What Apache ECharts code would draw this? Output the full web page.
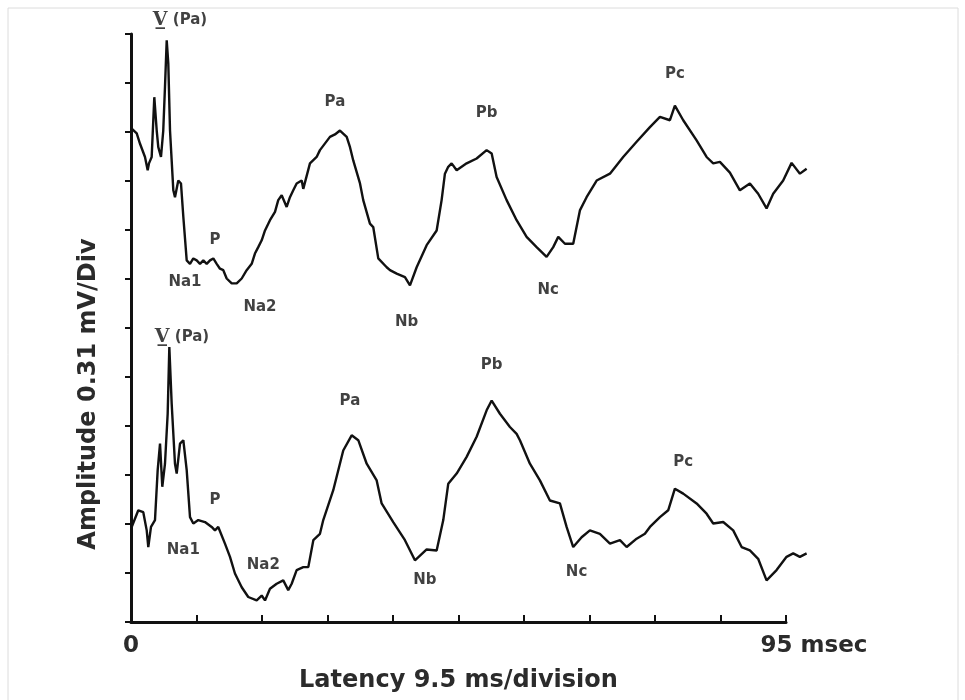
<!DOCTYPE html>
<html>
<head>
<meta charset="utf-8">
<script src="https://cdn.jsdelivr.net/npm/echarts@6/dist/echarts.min.js"></script>
<style>html,body{margin:0;padding:0;background:#fff;}#c{width:965px;height:700px;}</style>
</head>
<body>
<div id="c"></div>
<script>
// Latency (ms) vs amplitude (divisions of 0.31 mV)
var topTrace = [
[0.10,10.07],[0.83,9.97],[1.31,9.76],[2.03,9.49],[2.42,9.22],[2.61,9.36],[3.00,9.49],[3.38,10.71],
[3.73,10.03],[3.96,9.69],[4.35,9.49],[4.68,10.03],[4.93,10.92],[5.18,11.87],[5.41,11.40],[5.66,10.03],
[6.14,8.81],[6.38,8.67],[6.86,9.01],[7.25,8.95],[7.59,8.27],[8.08,7.38],[8.56,7.31],[9.04,7.42],
[9.53,7.38],[10.01,7.31],[10.49,7.38],[10.98,7.31],[11.46,7.38],[11.94,7.42],[12.43,7.31],[12.91,7.21],
[13.39,7.18],[13.88,7.01],[14.61,6.91],[15.33,6.91],[16.06,7.01],[16.78,7.18],[17.51,7.31],[17.98,7.52],
[18.46,7.65],[18.96,7.79],[19.44,7.99],[20.16,8.20],[20.89,8.37],[21.36,8.61],[21.86,8.71],[22.58,8.47],
[23.06,8.67],[23.54,8.81],[24.03,8.95],[24.76,9.01],[24.99,8.84],[25.96,9.36],[26.93,9.49],[27.41,9.63],
[28.86,9.90],[29.59,9.95],[30.31,10.03],[31.29,9.90],[31.77,9.69],[32.24,9.42],[33.22,8.95],[33.69,8.61],
[34.66,8.13],[35.14,8.06],[35.87,7.42],[37.09,7.24],[37.57,7.18],[38.54,7.11],[39.74,7.04],[40.47,6.87],
[41.44,7.24],[42.89,7.69],[44.34,7.99],[45.06,8.61],[45.54,9.15],[46.02,9.29],[46.51,9.36],[47.24,9.22],
[48.69,9.36],[50.14,9.46],[51.59,9.63],[52.32,9.56],[53.04,9.08],[54.49,8.61],[55.94,8.20],[57.39,7.86],
[58.84,7.65],[60.29,7.45],[61.25,7.65],[61.98,7.86],[62.95,7.72],[64.15,7.72],[65.12,8.40],[66.09,8.67],
[67.55,9.01],[69.48,9.15],[71.40,9.49],[73.35,9.80],[75.28,10.10],[76.73,10.31],[78.18,10.24],[78.90,10.54],
[80.11,10.24],[82.05,9.83],[83.50,9.49],[84.46,9.36],[85.43,9.39],[86.88,9.17],[88.33,8.81],[89.78,8.95],
[90.98,8.74],[92.20,8.44],[93.16,8.74],[94.61,9.01],[95.83,9.37],[97.04,9.15],[98.01,9.25]
];
var bottomTrace = [
[0.10,1.94],[1.06,2.28],[1.78,2.24],[2.28,1.87],[2.51,1.53],[2.90,1.94],[3.48,2.08],[3.87,3.10],
[4.21,3.64],[4.54,2.76],[4.93,3.23],[5.32,4.25],[5.56,5.61],[5.90,4.46],[6.38,3.23],[6.63,3.03],
[7.11,3.64],[7.59,3.71],[8.08,3.10],[8.56,2.14],[9.04,2.01],[9.76,2.08],[10.73,2.04],[11.70,1.94],
[12.18,1.87],[12.66,1.94],[13.63,1.60],[14.36,1.33],[15.08,0.99],[16.06,0.71],[17.01,0.51],[18.23,0.44],
[18.96,0.54],[19.44,0.44],[20.16,0.68],[21.13,0.78],[22.09,0.85],[22.81,0.65],[23.31,0.78],[24.03,1.06],
[24.99,1.12],[25.72,1.12],[26.45,1.67],[27.41,1.80],[27.89,2.08],[29.34,2.69],[30.79,3.50],[32.01,3.81],
[32.97,3.71],[34.19,3.23],[35.64,2.89],[36.36,2.42],[38.04,2.04],[39.74,1.67],[41.19,1.26],[42.89,1.48],
[44.34,1.46],[45.30,2.08],[46.02,2.82],[47.24,3.03],[48.69,3.37],[50.14,3.78],[51.59,4.32],[52.32,4.52],
[53.52,4.25],[54.97,3.98],[55.94,3.84],[56.42,3.71],[57.87,3.23],[59.32,2.89],[60.77,2.48],[62.22,2.42],
[63.19,1.94],[64.15,1.53],[65.37,1.73],[66.57,1.87],[68.02,1.80],[69.48,1.60],[70.93,1.67],[71.90,1.53],
[73.35,1.70],[74.55,1.80],[75.28,1.94],[76.73,2.14],[77.93,2.28],[78.90,2.72],[80.11,2.62],[82.05,2.42],
[83.50,2.21],[84.46,2.01],[85.91,2.04],[87.36,1.87],[88.58,1.53],[89.78,1.46],[90.98,1.29],[92.20,0.85],
[93.65,1.06],[95.10,1.33],[96.06,1.40],[97.03,1.33],[98.01,1.40]
];
var topPeakLabels = [
[7.11,12.28,'V'],[12.18,7.79,'P'],[7.83,6.94,'Na1'],[18.71,6.43,'Na2'],[29.59,10.61,'Pa'],
[39.99,6.12,'Nb'],[51.59,10.38,'Pb'],[60.53,6.77,'Nc'],[78.90,11.19,'Pc']
];
var bottomPeakLabels = [
[7.40,5.81,'V'],[12.18,2.48,'P'],[7.59,1.46,'Na1'],[19.19,1.16,'Na2'],[31.76,4.50,'Pa'],
[42.64,0.85,'Nb'],[52.32,5.24,'Pb'],[64.64,1.02,'Nc'],[80.11,3.27,'Pc']
];
var xTickLabels = {0: '0', 95: '95 msec'};
var xTitle = 'Latency 9.5 ms/division';
var yTitle = 'Amplitude 0.31 mV/Div';

var FONT = 'DejaVu Sans, Verdana, sans-serif';

function labelItems(arr) {
  return arr.map(function (d) {
    var txt = d[2] === 'V' ? '{v|V\u0332}{p| (Pa)}' : '{p|' + d[2] + '}';
    return { value: [d[0], d[1]], label: { formatter: txt } };
  });
}
var labelStyle = {
  show: true, position: 'inside', color: '#000',
  rich: {
    p: { fontFamily: FONT, fontWeight: 'bold', fontSize: 15, color: '#111' },
    v: { fontFamily: 'DejaVu Serif, serif', fontWeight: 'bold', fontSize: 19, color: '#111' }
  }
};

var chart = echarts.init(document.getElementById('c'));
chart.setOption({
  animation: false,
  backgroundColor: '#fff',
  graphic: [{
    type: 'rect', shape: { x: 8, y: 8, width: 950, height: 720 },
    style: { fill: 'none', stroke: '#dcdcdc', lineWidth: 1 }, silent: true, z: -1
  }],
  grid: [
    { left: 131, right: 179, top: 34, bottom: 78 },
    { left: 131, right: 155, top: 34, bottom: 78 }
  ],
  xAxis: [{
    gridIndex: 0, type: 'value', min: 0, max: 95, interval: 9.5,
    name: xTitle, nameLocation: 'middle', nameGap: 47,
    nameTextStyle: { fontFamily: FONT, fontWeight: 'bold', fontSize: 24, color: '#2b2b2b' },
    axisLine: { show: true, lineStyle: { color: '#111', width: 3 } },
    axisTick: { show: true, inside: true, length: 7, lineStyle: { color: '#111', width: 2 } },
    axisLabel: {
      show: true, margin: 13, showMinLabel: true, showMaxLabel: true,
      formatter: function (v) {
        var t = xTickLabels[Math.round(v * 10) / 10];
        if (!t) return '';
        return v > 50 ? '{r|' + t + '}' : '{l|' + t + '}';
      },
      rich: {
        r: { fontFamily: FONT, fontWeight: 'bold', fontSize: 23, color: '#2b2b2b', padding: [0, 0, 0, 56] },
        l: { fontFamily: FONT, fontWeight: 'bold', fontSize: 23, color: '#2b2b2b' }
      }
    },
    splitLine: { show: false }
  }, {
    gridIndex: 1, type: 'value', min: 0, max: 98.5, show: false
  }],
  yAxis: [{
    gridIndex: 0, type: 'value', min: 0, max: 12, interval: 1,
    name: yTitle, nameLocation: 'middle', nameGap: 30, nameRotate: 90,
    nameTextStyle: { fontFamily: FONT, fontWeight: 'bold', fontSize: 24, color: '#2b2b2b', padding: [0, 132, 0, 0] },
    axisLine: { show: true, lineStyle: { color: '#111', width: 3 } },
    axisTick: { show: true, inside: false, length: 6, lineStyle: { color: '#111', width: 2 } },
    axisLabel: { show: false },
    splitLine: { show: false }
  }, {
    gridIndex: 1, type: 'value', min: 0, max: 12, show: false
  }],
  series: [
    { type: 'line', xAxisIndex: 1, yAxisIndex: 1, data: topTrace, showSymbol: false, clip: false,
      lineStyle: { color: '#111', width: 2.4 } },
    { type: 'line', xAxisIndex: 1, yAxisIndex: 1, data: bottomTrace, showSymbol: false, clip: false,
      lineStyle: { color: '#111', width: 2.4 } },
    { type: 'scatter', xAxisIndex: 1, yAxisIndex: 1, data: labelItems(topPeakLabels), symbolSize: 0, clip: false, label: labelStyle },
    { type: 'scatter', xAxisIndex: 1, yAxisIndex: 1, data: labelItems(bottomPeakLabels), symbolSize: 0, clip: false, label: labelStyle }
  ]
});
</script>
</body>
</html>
